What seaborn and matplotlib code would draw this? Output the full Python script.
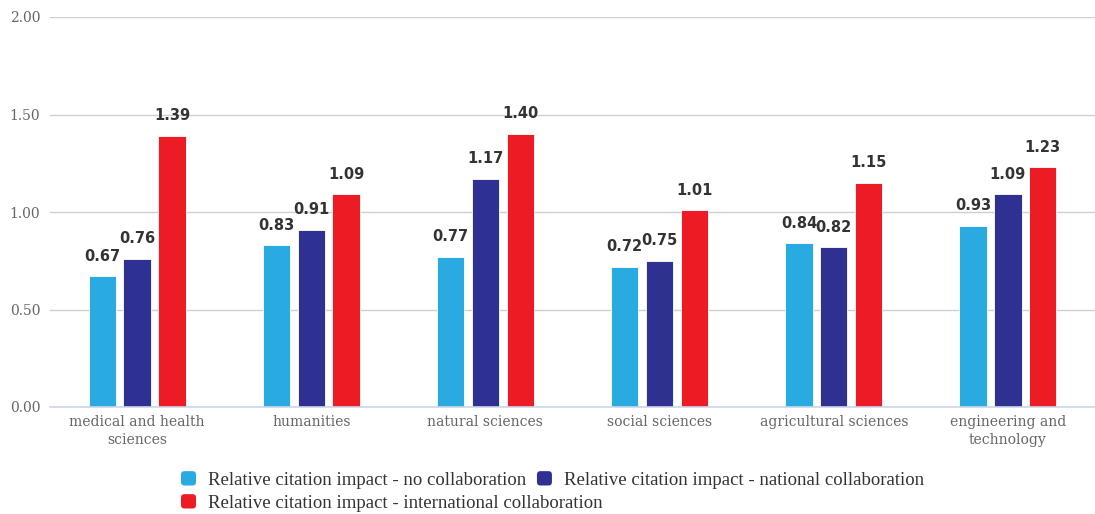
import matplotlib
matplotlib.use("Agg")
import matplotlib.pyplot as plt
import seaborn as sns
import pandas as pd
from matplotlib.patches import FancyBboxPatch
from matplotlib.legend_handler import HandlerPatch

categories = ["medical and health\nsciences", "humanities", "natural sciences",
              "social sciences", "agricultural sciences", "engineering and\ntechnology"]
series_names = ["Relative citation impact - no collaboration",
                "Relative citation impact - national collaboration",
                "Relative citation impact - international collaboration"]
no_collab = [0.67, 0.83, 0.77, 0.72, 0.84, 0.93]
national = [0.76, 0.91, 1.17, 0.75, 0.82, 1.09]
international = [1.39, 1.09, 1.40, 1.01, 1.15, 1.23]
y_ticks = [0.0, 0.5, 1.0, 1.5, 2.0]
colors = ["#29ABE2", "#2E3192", "#ED1C24"]

rows = []
for name, vals in zip(series_names, [no_collab, national, international]):
    for cat, v in zip(categories, vals):
        rows.append({"category": cat, "series": name, "value": v})
df = pd.DataFrame(rows)

sns.set_style("white")
fig = plt.figure(figsize=(10.95, 5.14), dpi=100)
ax = fig.add_axes([50 / 1095, 107 / 514, 1045 / 1095, 390 / 514])

sns.barplot(data=df, x="category", y="value", hue="series", order=categories,
            hue_order=series_names, palette=colors, saturation=1, width=0.6,
            gap=0.22, edgecolor="white", linewidth=0.6, ax=ax, legend=False)

for container in ax.containers:
    ax.bar_label(container, labels=[f"{v:.2f}" for v in container.datavalues],
                 padding=9, fontsize=10.5, fontweight="bold", color="#333333",
                 family="DejaVu Sans")

ax.set_ylim(0, 2.0)
ax.set_xlim(-0.5, 5.5)
ax.set_yticks(y_ticks)
ax.set_yticklabels([f"{t:.2f}" for t in y_ticks], family="DejaVu Serif",
                   fontsize=10, color="#666666")
ax.yaxis.grid(True, color="#cfcfcf", linewidth=1.0)
ax.set_axisbelow(True)
ax.tick_params(axis="y", length=0, pad=7)
ax.set_xticks(range(len(categories)))
ax.set_xticklabels(categories, family="DejaVu Serif", fontsize=10, color="#666666",
                   linespacing=1.35)
ax.tick_params(axis="x", which="major", length=0, pad=6)
ax.set_xticks([i + 0.5 for i in range(-1, len(categories))], minor=True)
ax.tick_params(axis="x", which="minor", length=7, color="#ccd6eb", width=1)
ax.set_xlabel("")
ax.set_ylabel("")
for side in ["top", "right", "left"]:
    ax.spines[side].set_visible(False)
ax.spines["bottom"].set_color("#ccd6eb")
ax.spines["bottom"].set_linewidth(1.2)


class RoundSquare(HandlerPatch):
    def create_artists(self, legend, orig_handle, xdescent, ydescent, width,
                       height, fontsize, trans):
        p = FancyBboxPatch((-xdescent + 1.5, -ydescent + 1.5), width - 3, height - 3,
                           boxstyle="round,pad=1.5,rounding_size=2.5",
                           facecolor=orig_handle.get_facecolor(), edgecolor="none",
                           transform=trans)
        return [p]


handles = [plt.Rectangle((0, 0), 1, 1, facecolor=c) for c in colors]
legend_kw = dict(frameon=False, prop={"family": "Liberation Serif", "size": 13.5},
                 handlelength=0.8, handleheight=0.8, handletextpad=0.64,
                 columnspacing=0.57, borderpad=0, borderaxespad=0,
                 handler_map={plt.Rectangle: RoundSquare()})
legend_rows = [[0, 1], [2]]
row_y = [480, 503]
for idx, y in zip(legend_rows, row_y):
    leg = fig.legend([handles[i] for i in idx], [series_names[i] for i in idx],
                     loc="center left", bbox_to_anchor=(181 / 1095, 1 - y / 514),
                     ncol=len(idx), **legend_kw)
    for t in leg.get_texts():
        t.set_color("#333333")

fig.savefig("out.png", dpi=100)
